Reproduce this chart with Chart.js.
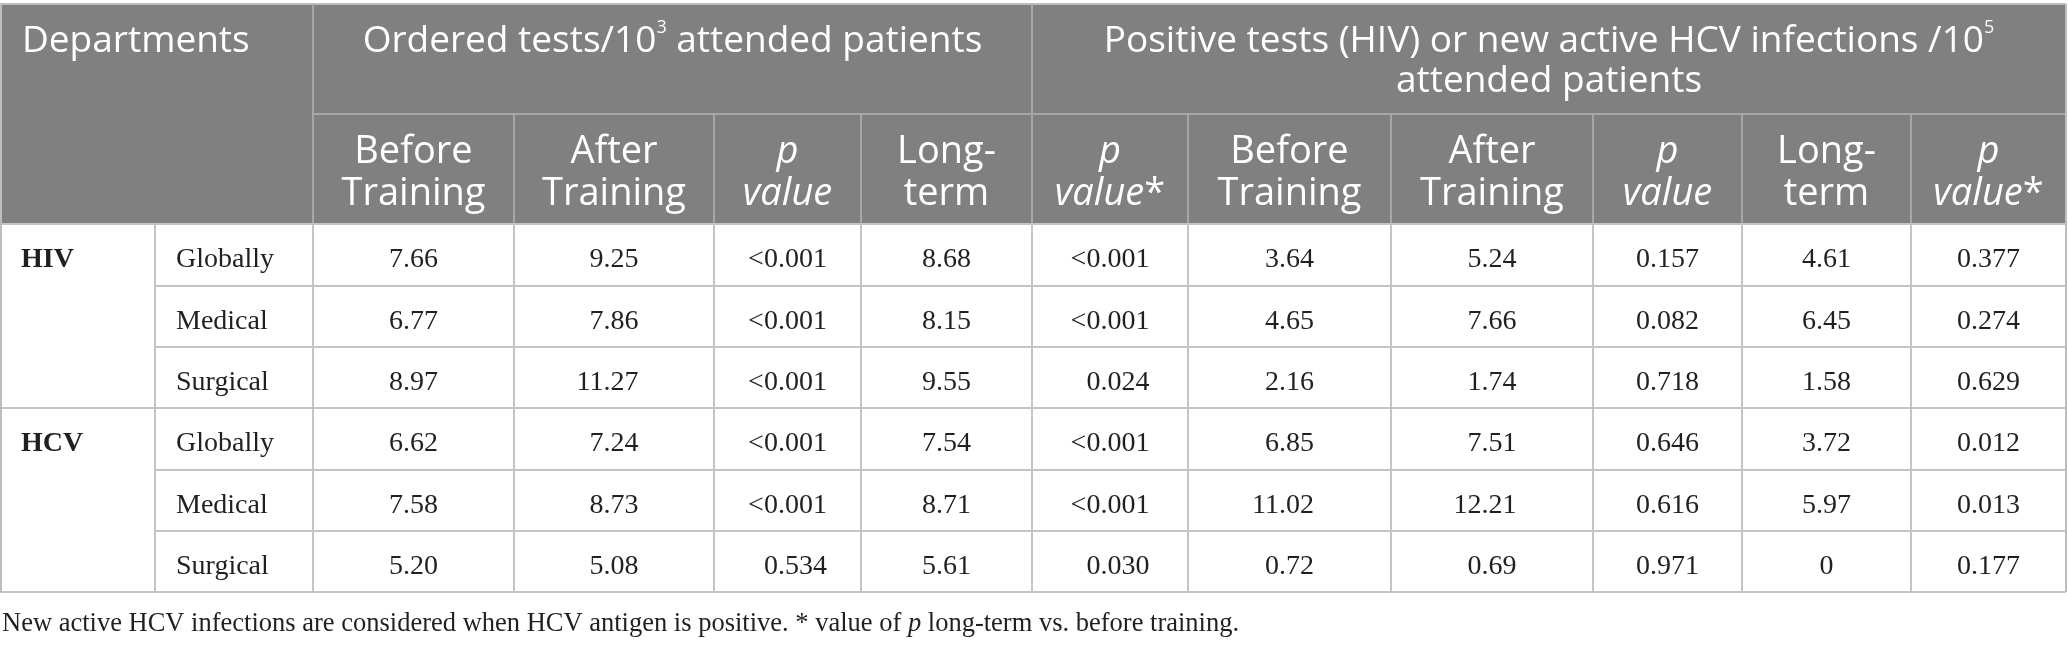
<!DOCTYPE html>
<html>
<head>
<meta charset="utf-8">
<script src="https://cdn.jsdelivr.net/npm/chart.js@4.4.0/dist/chart.umd.min.js"></script>
<style>
  html, body { margin: 0; padding: 0; background: #ffffff; }
  #wrap { width: 2068px; height: 647px; }
</style>
</head>
<body>
<div id="wrap"><canvas id="c" width="2068" height="647"></canvas></div>
<script>
// ---------------- DATA ----------------
const diseases = ['HIV', 'HCV'];
const departments = ['Globally', 'Medical', 'Surgical', 'Globally', 'Medical', 'Surgical'];

const groupHeaders = [
  'Departments',
  'Ordered tests/10<sup>3</sup> attended patients',
  'Positive tests (HIV) or new active HCV infections /10<sup>5</sup>\nattended patients'
];
const subHeaders = [
  'Before\nTraining', 'After\nTraining', '<i>p</i>\n<i>value</i>', 'Long-\nterm', '<i>p</i>\n<i>value</i>*',
  'Before\nTraining', 'After\nTraining', '<i>p</i>\n<i>value</i>', 'Long-\nterm', '<i>p</i>\n<i>value</i>*'
];

const orderedBefore = ['7.66', '6.77', '8.97', '6.62', '7.58', '5.20'];
const orderedAfter  = ['9.25', '7.86', '11.27', '7.24', '8.73', '5.08'];
const orderedP      = ['<0.001', '<0.001', '<0.001', '<0.001', '<0.001', '0.534'];
const orderedLong   = ['8.68', '8.15', '9.55', '7.54', '8.71', '5.61'];
const orderedPLong  = ['<0.001', '<0.001', '0.024', '<0.001', '<0.001', '0.030'];
const positiveBefore = ['3.64', '4.65', '2.16', '6.85', '11.02', '0.72'];
const positiveAfter  = ['5.24', '7.66', '1.74', '7.51', '12.21', '0.69'];
const positiveP      = ['0.157', '0.082', '0.718', '0.646', '0.616', '0.971'];
const positiveLong   = ['4.61', '6.45', '1.58', '3.72', '5.97', '0'];
const positivePLong  = ['0.377', '0.274', '0.629', '0.012', '0.013', '0.177'];

const footnote = 'New active HCV infections are considered when HCV antigen is positive. * value of <i>p</i> long-term vs. before training.';

// ---------------- LAYOUT (scale units) ----------------
const COL_EDGES = [0, 155, 313, 514, 714, 861, 1032, 1188, 1391, 1593, 1742, 1911, 2066];
const GROUP_SPLIT = 6;          // index of the edge between the two header groups
const HEAD_EDGES = [4, 114, 224];
const ROW_EDGES = [224, 286, 347, 408, 470, 531, 592];
const FOOT_Y = 631;
const W = 2068, H = 647;

const HEAD_BG = '#808080';
const HEAD_LINE = '#a6a6a6';
const BODY_LINE = '#c4c4c4';
const TEXT = '#231f20';
const GROUP_FONT = { family: '"Open Sans"', size: 37, weight: 'normal' };
const SUB_FONT = { family: '"Open Sans"', size: 38, weight: 'normal' };
const BODY_FONT = { family: '"Liberation Serif"', size: 28, weight: 'normal' };
const FOOT_FONT = { family: '"Liberation Serif"', size: 26.5, weight: 'normal' };

const valueColumns = [orderedBefore, orderedAfter, orderedP, orderedLong, orderedPLong,
                      positiveBefore, positiveAfter, positiveP, positiveLong, positivePLong];

// cells built from the data arrays
const cells = [];
valueColumns.forEach((col, c) => {
  col.forEach((v, r) => {
    cells.push({
      x: (COL_EDGES[c + 2] + COL_EDGES[c + 3]) / 2,
      y: (ROW_EDGES[r] + ROW_EDGES[r + 1]) / 2,
      v: v, c: c, r: r
    });
  });
});

// ---------------- rich text helpers ----------------
function parseRuns(line) {
  const runs = []; const re = /<(i|sup)>(.*?)<\/\1>/g; let last = 0, m;
  while ((m = re.exec(line))) {
    if (m.index > last) runs.push({ t: line.slice(last, m.index), s: '' });
    runs.push({ t: m[2], s: m[1] });
    last = re.lastIndex;
  }
  if (last < line.length) runs.push({ t: line.slice(last), s: '' });
  return runs;
}
function runFont(base, s) {
  if (s === 'i') return `italic ${base.weight} ${base.size}px ${base.family}`;
  if (s === 'sup') return `${base.weight} ${Math.round(base.size * 0.48)}px ${base.family}`;
  return `${base.weight} ${base.size}px ${base.family}`;
}
function drawRich(ctx, line, x, y, align, base, color) {
  const runs = parseRuns(line);
  let w = 0;
  runs.forEach(r => { ctx.font = runFont(base, r.s); r.w = ctx.measureText(r.t).width; w += r.w; });
  let cx = align === 'center' ? x - w / 2 : x;
  ctx.fillStyle = color;
  ctx.textAlign = 'left';
  ctx.textBaseline = 'alphabetic';
  runs.forEach(r => {
    ctx.font = runFont(base, r.s);
    ctx.fillText(r.t, cx, r.s === 'sup' ? y - base.size * 0.52 : y);
    cx += r.w;
  });
}

// ---------------- table plugin ----------------
const tablePlugin = {
  id: 'tablePlugin',
  beforeDatasetsDraw(chart) {
    const ctx = chart.ctx;
    const xs = chart.scales.x, ys = chart.scales.y;
    const px = v => xs.getPixelForValue(v);
    const py = v => ys.getPixelForValue(v);
    const L = px(COL_EDGES[0]), R = px(COL_EDGES[COL_EDGES.length - 1]);
    ctx.save();
    // header background
    ctx.fillStyle = HEAD_BG;
    ctx.fillRect(L, py(HEAD_EDGES[0]), R - L, py(HEAD_EDGES[2]) - py(HEAD_EDGES[0]));

    const hline = (x1, x2, y, color, w) => { ctx.strokeStyle = color; ctx.lineWidth = w; ctx.beginPath(); ctx.moveTo(px(x1), py(y)); ctx.lineTo(px(x2), py(y)); ctx.stroke(); };
    const vline = (x, y1, y2, color, w) => { ctx.strokeStyle = color; ctx.lineWidth = w; ctx.beginPath(); ctx.moveTo(px(x), py(y1)); ctx.lineTo(px(x), py(y2)); ctx.stroke(); };

    // header lines
    hline(COL_EDGES[0], COL_EDGES[12], HEAD_EDGES[0], '#bdbdbd', 2);
    hline(COL_EDGES[2], COL_EDGES[12], HEAD_EDGES[1], HEAD_LINE, 2);
    vline(COL_EDGES[2], HEAD_EDGES[0], HEAD_EDGES[2], HEAD_LINE, 2);
    vline(COL_EDGES[GROUP_SPLIT], HEAD_EDGES[0], HEAD_EDGES[2], HEAD_LINE, 2);
    for (let i = 3; i < 12; i++) if (i !== GROUP_SPLIT) vline(COL_EDGES[i], HEAD_EDGES[1], HEAD_EDGES[2], HEAD_LINE, 2);

    // body lines
    for (let r = 0; r < ROW_EDGES.length; r++) {
      const full = (r % 3 === 0);
      hline(full ? COL_EDGES[0] : COL_EDGES[1], COL_EDGES[12], ROW_EDGES[r], BODY_LINE, 2);
    }
    for (let i = 1; i < 12; i++) vline(COL_EDGES[i], ROW_EDGES[0], ROW_EDGES[6], BODY_LINE, 2);
    vline(COL_EDGES[0] + 1, HEAD_EDGES[0], ROW_EDGES[6], '#bdbdbd', 2);
    vline(COL_EDGES[12], HEAD_EDGES[0], ROW_EDGES[6], '#bdbdbd', 2);

    // header texts
    drawRich(ctx, groupHeaders[0], px(COL_EDGES[0] + 22), py(HEAD_EDGES[0] + 48), 'left', GROUP_FONT, '#ffffff');
    [[2, GROUP_SPLIT, groupHeaders[1]], [GROUP_SPLIT, 12, groupHeaders[2]]].forEach(([a, b, t]) => {
      const cx = px((COL_EDGES[a] + COL_EDGES[b]) / 2);
      t.split('\n').forEach((ln, k) => drawRich(ctx, ln, cx, py(HEAD_EDGES[0] + 48 + k * 40), 'center', GROUP_FONT, '#ffffff'));
    });
    subHeaders.forEach((t, c) => {
      const cx = px((COL_EDGES[c + 2] + COL_EDGES[c + 3]) / 2);
      t.split('\n').forEach((ln, k) => drawRich(ctx, ln, cx, py(HEAD_EDGES[1] + 49 + k * 42), 'center', SUB_FONT, '#ffffff'));
    });

    // row labels
    diseases.forEach((d, i) => {
      drawRich(ctx, d, px(COL_EDGES[0] + 21), py(ROW_EDGES[i * 3] + 43), 'left',
        { family: BODY_FONT.family, size: BODY_FONT.size, weight: 'bold' }, TEXT);
    });
    departments.forEach((d, r) => {
      drawRich(ctx, d, px(COL_EDGES[1] + 21), py(ROW_EDGES[r] + 43), 'left', BODY_FONT, TEXT);
    });

    // footnote
    drawRich(ctx, footnote, px(2), py(FOOT_Y), 'left', FOOT_FONT, TEXT);
    ctx.restore();
  },
  afterDatasetsDraw(chart) {
    const ctx = chart.ctx;
    const meta = chart.getDatasetMeta(0);
    const data = chart.data.datasets[0].data;
    ctx.save();
    ctx.font = `${BODY_FONT.weight} ${BODY_FONT.size}px ${BODY_FONT.family}`;
    ctx.fillStyle = TEXT;
    ctx.textBaseline = 'alphabetic';
    // anchor per column: first row's value centred, the rest aligned on its right edge
    const offs = valueColumns.map(col => ctx.measureText(col[0]).width / 2);
    meta.data.forEach((el, i) => {
      const d = data[i];
      const y = el.y + 12;
      if (d.v.indexOf('.') >= 0) {
        ctx.textAlign = 'right';
        ctx.fillText(d.v, el.x + offs[d.c], y);
      } else {
        ctx.textAlign = 'center';
        ctx.fillText(d.v, el.x, y);
      }
    });
    ctx.restore();
  }
};

new Chart(document.getElementById('c'), {
  type: 'scatter',
  data: {
    datasets: [{
      data: cells,
      pointRadius: 0,
      pointHoverRadius: 0,
      showLine: false
    }]
  },
  options: {
    responsive: false,
    animation: false,
    devicePixelRatio: 1,
    layout: { padding: 0 },
    events: [],
    plugins: { legend: { display: false }, tooltip: { enabled: false }, title: { display: false } },
    scales: {
      x: { type: 'linear', min: 0, max: W, display: false },
      y: { type: 'linear', min: 0, max: H, reverse: true, display: false }
    }
  },
  plugins: [tablePlugin]
});
</script>
</body>
</html>
